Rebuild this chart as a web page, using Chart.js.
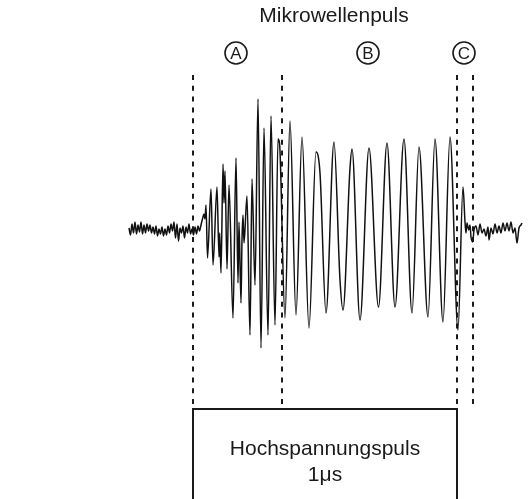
<!DOCTYPE html>
<html>
<head>
<meta charset="utf-8">
<script src="https://cdn.jsdelivr.net/npm/chart.js@4/dist/chart.umd.min.js"></script>
<style>
  html, body { margin: 0; padding: 0; background: #fff; }
  #wrap { width: 530px; height: 499px; }
</style>
</head>
<body>
<div id="wrap"><canvas id="pulse-chart" width="530" height="499"></canvas></div>
<script>
// Sample times (arbitrary time units, pulse runs from 193 to 457)
const sampleTimes = [
  129, 130.5, 132, 133.5, 135, 136.5, 138, 139.5, 141, 142.5, 144, 145.5, 147, 148.5, 150, 151.5,
  153, 154.5, 156, 157.5, 159, 160.5, 162, 163.5, 165, 166.5, 168, 169.5, 171, 172.5, 174, 175.5,
  177, 178.5, 180, 181.5, 183, 184.5, 186, 187.5, 189, 190.5, 192, 193.5, 195, 196.5, 198, 199.5,
  201, 203, 204, 205, 206, 207.5,
  211, 213, 217, 219, 219.7, 221, 223, 224, 225, 227, 229, 233, 236, 238, 239, 241, 242, 243, 244,
  247, 250, 252, 255, 258, 261, 264, 268, 271, 275, 278, 279.5,
  285, 290, 296, 302, 309, 316, 320, 326, 334, 340, 343, 350, 352, 360, 369, 378.5, 387, 395, 404,
  412, 419, 428, 435, 443, 450, 458,
  463, 465, 466, 467, 468.7, 470, 471, 472.7, 474,
  476, 478, 480, 482, 484, 486, 488, 489, 491, 493, 495, 497, 499, 501, 503, 505, 507, 509, 511,
  513, 515, 517, 519, 521, 522
];

// Microwave signal amplitude (arbitrary units, 0 = baseline)
const signal = [
  3, -4, 7, -2, 9, -3, 6, -1, 9, -3, 6, -2, 7, 0, 6, -2,
  4, -3, 5, -5, 2, -3, 4, -5, 2, -4, 5, -2, 7, 0, 9, -7,
  7, -10, 3, -2, 5, -7, 4, -2, 7, -3, 2, -4, 4, -3, 5, 0,
  6, 14, 17, 12, 26, -27,
  42, -34, 44, -26, -2, -42, 67, 28, 60, -38, 46, -87, 73, -52, 9, -72, -9, 16, -12,
  35, -104, 52, -54, 132, -117, 103, -104, 115, -94, 92, 88,
  -87, 110, -84, 94, -97, 79, 58, -82, 89, -49, -79, 63, 82, -89, 83, -76, 88, -76, 92,
  -82, 84, -86, 92, -91, 94, -99,
  44, 9, -2, 8, 1, 6, -6, -11, 1,
  5, -4, 7, -2, 2, -5, 4, -9, 3, -3, 7, -2, 5, -2, 8, 0, 8, 0, 9,
  -2, 3, -12, 3, 6, 8
];

// Dotted region boundaries
const markerTimes = [193, 282, 457, 473];
const markerTop = 156;
const markerBottom = -178;

// High voltage pulse (1 µs)
const pulseStart = 193;
const pulseEnd = 457;
const pulseLevel = -178;
const pulseBase = -290;

// Region labels
const regionLabels = ["A", "B", "C"];
const regionLabelTimes = [236, 368, 464];
const regionLabelLevel = 178;

const titleText = "Mikrowellenpuls";
const pulseText = ["Hochspannungspuls", "1\u03bcs"];

const ink = "#1a1a1a";

const datasets = [
  {
    label: "Signal",
    data: sampleTimes.map((t, i) => ({ x: t, y: signal[i] })),
    borderColor: "#111",
    borderWidth: 1.5,
    pointRadius: 0,
    cubicInterpolationMode: "monotone",
    fill: false,
  },
];

markerTimes.forEach((t) => {
  datasets.push({
    label: "Marker",
    data: [
      { x: t, y: markerTop },
      { x: t, y: markerBottom },
    ],
    borderColor: ink,
    borderWidth: 2,
    borderDash: [5, 5.8],
    pointRadius: 0,
    fill: false,
  });
});

datasets.push({
  label: "Hochspannungspuls",
  data: [
    { x: pulseStart, y: pulseBase },
    { x: pulseStart, y: pulseLevel },
    { x: pulseEnd, y: pulseLevel },
    { x: pulseEnd, y: pulseBase },
  ],
  borderColor: ink,
  borderWidth: 2,
  pointRadius: 0,
  fill: false,
});

// Text and circled letters
const annotations = {
  id: "annotations",
  afterDraw(chart) {
    const { ctx, scales } = chart;
    const xs = scales.x;
    const ys = scales.y;
    ctx.save();
    ctx.fillStyle = ink;
    ctx.strokeStyle = ink;
    ctx.textAlign = "center";
    ctx.textBaseline = "alphabetic";

    ctx.font = '21px "Liberation Sans", Arial, sans-serif';
    ctx.fillText(titleText, xs.getPixelForValue(334), ys.getPixelForValue(209.5));

    const midX = xs.getPixelForValue((pulseStart + pulseEnd) / 2);
    ctx.fillText(pulseText[0], midX, ys.getPixelForValue(-224));
    ctx.fillText(pulseText[1], midX, ys.getPixelForValue(-250));

    ctx.font = '17px "Liberation Sans", Arial, sans-serif';
    ctx.lineWidth = 1.6;
    regionLabels.forEach((lbl, i) => {
      const cx = xs.getPixelForValue(regionLabelTimes[i]);
      const cy = ys.getPixelForValue(regionLabelLevel);
      ctx.beginPath();
      ctx.arc(cx, cy, 11, 0, Math.PI * 2);
      ctx.stroke();
      ctx.fillText(lbl, cx, cy + 6);
    });
    ctx.restore();
  },
};

new Chart(document.getElementById("pulse-chart").getContext("2d"), {
  type: "line",
  data: { datasets: datasets },
  options: {
    responsive: false,
    animation: false,
    layout: { padding: 0 },
    scales: {
      x: { type: "linear", display: false, min: 0, max: 530 },
      y: { type: "linear", display: false, min: -268, max: 231 },
    },
    plugins: {
      legend: { display: false },
      tooltip: { enabled: false },
    },
  },
  plugins: [annotations],
});
</script>
</body>
</html>
